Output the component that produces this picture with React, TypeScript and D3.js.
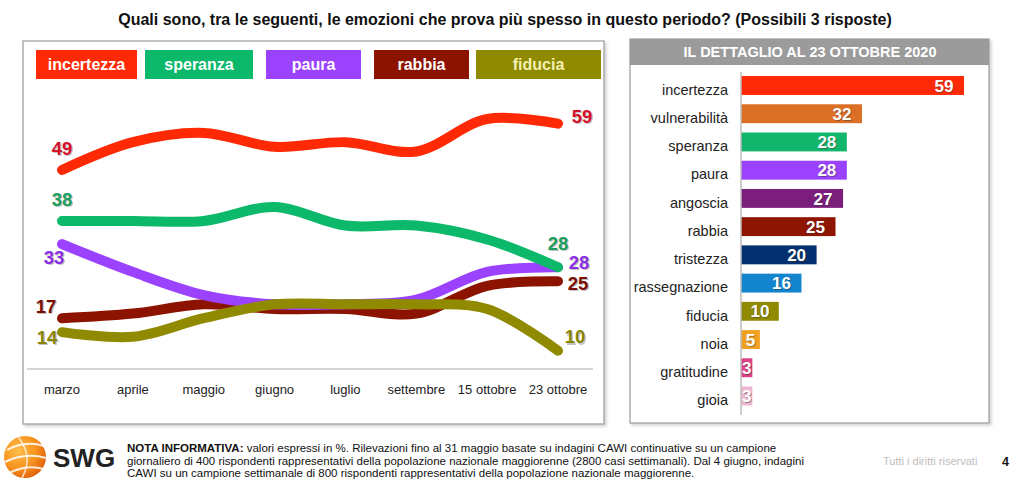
import React from 'react';
import * as d3 from 'd3';

// ---------- DATA ----------
const months = ['marzo', 'aprile', 'maggio', 'giugno', 'luglio', 'settembre', '15 ottobre', '23 ottobre'];
const incertezza = [49, 55, 57, 54, 55, 53, 60, 59];
const speranza = [38, 38, 38, 41, 37, 37, 34, 28];
const paura = [33, 27, 22, 20, 20, 21, 27, 28];
const rabbia = [17, 18, 20, 19, 19, 18, 24, 25];
const fiducia = [14, 13, 17, 20, 20, 20, 19, 10];
const lineSeriesNames = ['incertezza', 'speranza', 'paura', 'rabbia', 'fiducia'];

const detailCategories = ['incertezza', 'vulnerabilità', 'speranza', 'paura', 'angoscia', 'rabbia', 'tristezza', 'rassegnazione', 'fiducia', 'noia', 'gratitudine', 'gioia'];
const detailValues = [59, 32, 28, 28, 27, 25, 20, 16, 10, 5, 3, 3];

const titleText = 'Quali sono, tra le seguenti, le emozioni che prova più spesso in questo periodo? (Possibili 3 risposte)';
const detailTitle = 'IL DETTAGLIO AL 23 OTTOBRE 2020';
const noteLines = [
  ' valori espressi in %. Rilevazioni fino al 31 maggio basate su indagini CAWI continuative su un campione',
  'giornaliero di 400 rispondenti rappresentativi della popolazione nazionale maggiorenne (2800 casi settimanali). Dal 4 giugno, indagini',
  'CAWI su un campione settimanale di 800 rispondenti rappresentativi della popolazione nazionale maggiorenne.',
];

// ---------- STYLES / LAYOUT ----------
const FONT = '"Liberation Sans", Arial, Helvetica, sans-serif';
const lineStyle: Record<string, { color: string; label: string; legendText: string }> = {
  incertezza: { color: '#ff2a05', label: '#d3122c', legendText: '#ffffff' },
  speranza: { color: '#0cb86a', label: '#1d9e5e', legendText: '#ffffff' },
  paura: { color: '#9b42ff', label: '#8a2fe6', legendText: '#ffffff' },
  rabbia: { color: '#8c1300', label: '#7a0e02', legendText: '#ffffff' },
  fiducia: { color: '#8f8a00', label: '#8a8500', legendText: '#f3f0b0' },
};
const legendBoxes = [
  { x: 36, w: 101 },
  { x: 145, w: 108 },
  { x: 266, w: 95 },
  { x: 374, w: 95 },
  { x: 476, w: 125 },
];
// label offsets (dx, dy) from first and last points
const startOffsets = [[0, -22], [0, -22], [-8, 13], [-16, -12], [-15, 5]];
const endOffsets = [[24, -7], [0, -24], [21, -5], [20, 2], [17, -14]];
const drawOrder = ['rabbia', 'paura', 'speranza', 'incertezza', 'fiducia'];

const barColors = ['#ff2a05', '#dc6f26', '#12b56c', '#9b42ff', '#7b1e7c', '#8e1502', '#02306e', '#1385cf', '#8f8a00', '#f0a023', '#dc4286', '#efb7cf'];

export default function App() {
  const seriesData: Record<string, number[]> = { incertezza, speranza, paura, rabbia, fiducia };

  const x = d3.scalePoint<string>().domain(months).range([62, 558]);
  const y = d3.scaleLinear().domain([0, 60]).range([397, 119]);
  const line = d3
    .line<number>()
    .x((_, i) => x(months[i]) as number)
    .y((d) => y(d))
    .curve(d3.curveCatmullRom.alpha(0.5));

  const bx = d3.scaleLinear().domain([0, 60]).range([741, 741 + 60 * 3.78]);
  const by = d3.scaleBand<string>().domain(detailCategories).range([71.4, 410.1]).paddingInner(0.33).paddingOuter(0.165);

  return (
    <svg width={1022} height={487} style={{ position: 'absolute', left: 0, top: 0, background: '#fff' }} fontFamily={FONT}>
      <defs>
        <filter id="panelShadow" x="-5%" y="-5%" width="110%" height="110%">
          <feDropShadow dx="2" dy="2" stdDeviation="1.5" floodColor="#000" floodOpacity="0.18" />
        </filter>
        <radialGradient id="globe" cx="35%" cy="35%" r="70%">
          <stop offset="0%" stopColor="#ffc04a" />
          <stop offset="60%" stopColor="#f7921e" />
          <stop offset="100%" stopColor="#e0620a" />
        </radialGradient>
      </defs>

      {/* Title */}
      <text x={505} y={25} textAnchor="middle" fontSize={16} fontWeight="bold" fill="#111">
        {titleText}
      </text>

      {/* Left panel */}
      <rect x={23} y={41} width={581} height={383} fill="#fff" stroke="#9a9a9a" strokeWidth={1.2} filter="url(#panelShadow)" />

      {/* Legend */}
      {lineSeriesNames.map((n, i) => (
        <g key={n}>
          <rect x={legendBoxes[i].x} y={50} width={legendBoxes[i].w} height={29} fill={lineStyle[n].color} />
          <text
            x={legendBoxes[i].x + legendBoxes[i].w / 2}
            y={64.5}
            dy="0.36em"
            textAnchor="middle"
            fontSize={16}
            fontWeight="bold"
            fill={lineStyle[n].legendText}
          >
            {n}
          </text>
        </g>
      ))}

      {/* axis separator */}
      <line x1={27} x2={593} y1={369} y2={369} stroke="#c8c8c8" strokeWidth={1.5} />
      {months.map((m) => (
        <text key={m} x={x(m)} y={389} dy="0.35em" textAnchor="middle" fontSize={13} fill="#222">
          {m}
        </text>
      ))}

      {/* Lines */}
      {drawOrder.map((n) => (
        <path
          key={n}
          d={line(seriesData[n]) || ''}
          fill="none"
          stroke={lineStyle[n].color}
          strokeWidth={10}
          strokeLinecap="round"
          strokeLinejoin="round"
        />
      ))}

      {/* Line labels */}
      {lineSeriesNames.map((n, i) => {
        const vals = seriesData[n];
        const first = vals[0];
        const last = vals[vals.length - 1];
        const sx = (x(months[0]) as number) + startOffsets[i][0];
        const sy = y(first) + startOffsets[i][1];
        const ex = (x(months[months.length - 1]) as number) + endOffsets[i][0];
        const ey = y(last) + endOffsets[i][1];
        const lbl = (tx: number, ty: number, v: number, k: string) => (
          <g key={k}>
            <text x={tx + 1.2} y={ty + 1.2} dy="0.36em" textAnchor="middle" fontSize={18.5} fontWeight="bold" fill="#9a9a9a" opacity={0.6}>
              {v}
            </text>
            <text x={tx} y={ty} dy="0.36em" textAnchor="middle" fontSize={18.5} fontWeight="bold" fill={lineStyle[n].label}>
              {v}
            </text>
          </g>
        );
        return (
          <g key={n}>
            {lbl(sx, sy, first, 's')}
            {lbl(ex, ey, last, 'e')}
          </g>
        );
      })}

      {/* Right panel */}
      <rect x={630} y={39} width={359} height={384} fill="#fff" stroke="#9a9a9a" strokeWidth={1.2} filter="url(#panelShadow)" />
      <rect x={630} y={39} width={359} height={26} fill="#9b9b9b" />
      <text x={810} y={52} dy="0.36em" textAnchor="middle" fontSize={14.5} fontWeight="bold" fill="#fff">
        {detailTitle}
      </text>

      {detailCategories.map((c, i) => {
        const v = detailValues[i];
        const y0 = by(c) as number;
        const h = by.bandwidth();
        const x0 = bx(0);
        const x1 = bx(v);
        const w = x1 - x0;
        const cx = x1 - Math.min(20, w / 2);
        return (
          <g key={c}>
            <rect x={x0} y={y0} width={w} height={h} fill={barColors[i]} />
            <text x={728} y={y0 + h / 2 + 4} dy="0.36em" textAnchor="end" fontSize={14.5} fill="#222">
              {c}
            </text>
            <text x={cx + 1} y={y0 + h / 2 + 1} dy="0.36em" textAnchor="middle" fontSize={17} fontWeight="bold" fill="#333" opacity={0.45}>
              {v}
            </text>
            <text x={cx} y={y0 + h / 2} dy="0.36em" textAnchor="middle" fontSize={17} fontWeight="bold" fill="#fff">
              {v}
            </text>
          </g>
        );
      })}
      <line x1={bx(0)} x2={bx(0)} y1={72} y2={415} stroke="#bdbdbd" strokeWidth={1.5} />

      {/* Footer: logo */}
      <g>
        <circle cx={25} cy={457} r={21} fill="url(#globe)" />
        <path d="M7,450 Q25,440 44,446" fill="none" stroke="#fff" strokeWidth={2} opacity={0.85} />
        <path d="M5,462 Q25,452 46,458" fill="none" stroke="#fff" strokeWidth={2} opacity={0.85} />
        <path d="M9,473 Q27,464 44,469" fill="none" stroke="#fff" strokeWidth={2} opacity={0.85} />
        <path d="M18,437 Q34,456 22,478" fill="none" stroke="#fff" strokeWidth={1.6} opacity={0.7} />
        <text x={53} y={458} dy="0.36em" fontSize={26} fontWeight="bold" fill="#222">
          SWG
        </text>
      </g>

      {/* Footnote */}
      <text x={127} y={448} dy="0.35em" fontSize={11.5} fill="#111">
        <tspan fontWeight="bold">NOTA INFORMATIVA:</tspan>
        <tspan>{noteLines[0]}</tspan>
      </text>
      <text x={127} y={460.5} dy="0.35em" fontSize={11.5} fill="#111">
        {noteLines[1]}
      </text>
      <text x={127} y={473} dy="0.35em" fontSize={11.5} fill="#111">
        {noteLines[2]}
      </text>
      <text x={883} y={461} dy="0.35em" fontSize={11} fill="#bdbdbd">
        Tutti i diritti riservati
      </text>
      <text x={1002} y={462} dy="0.35em" fontSize={12.5} fontWeight="bold" fill="#111">
        4
      </text>
    </svg>
  );
}
